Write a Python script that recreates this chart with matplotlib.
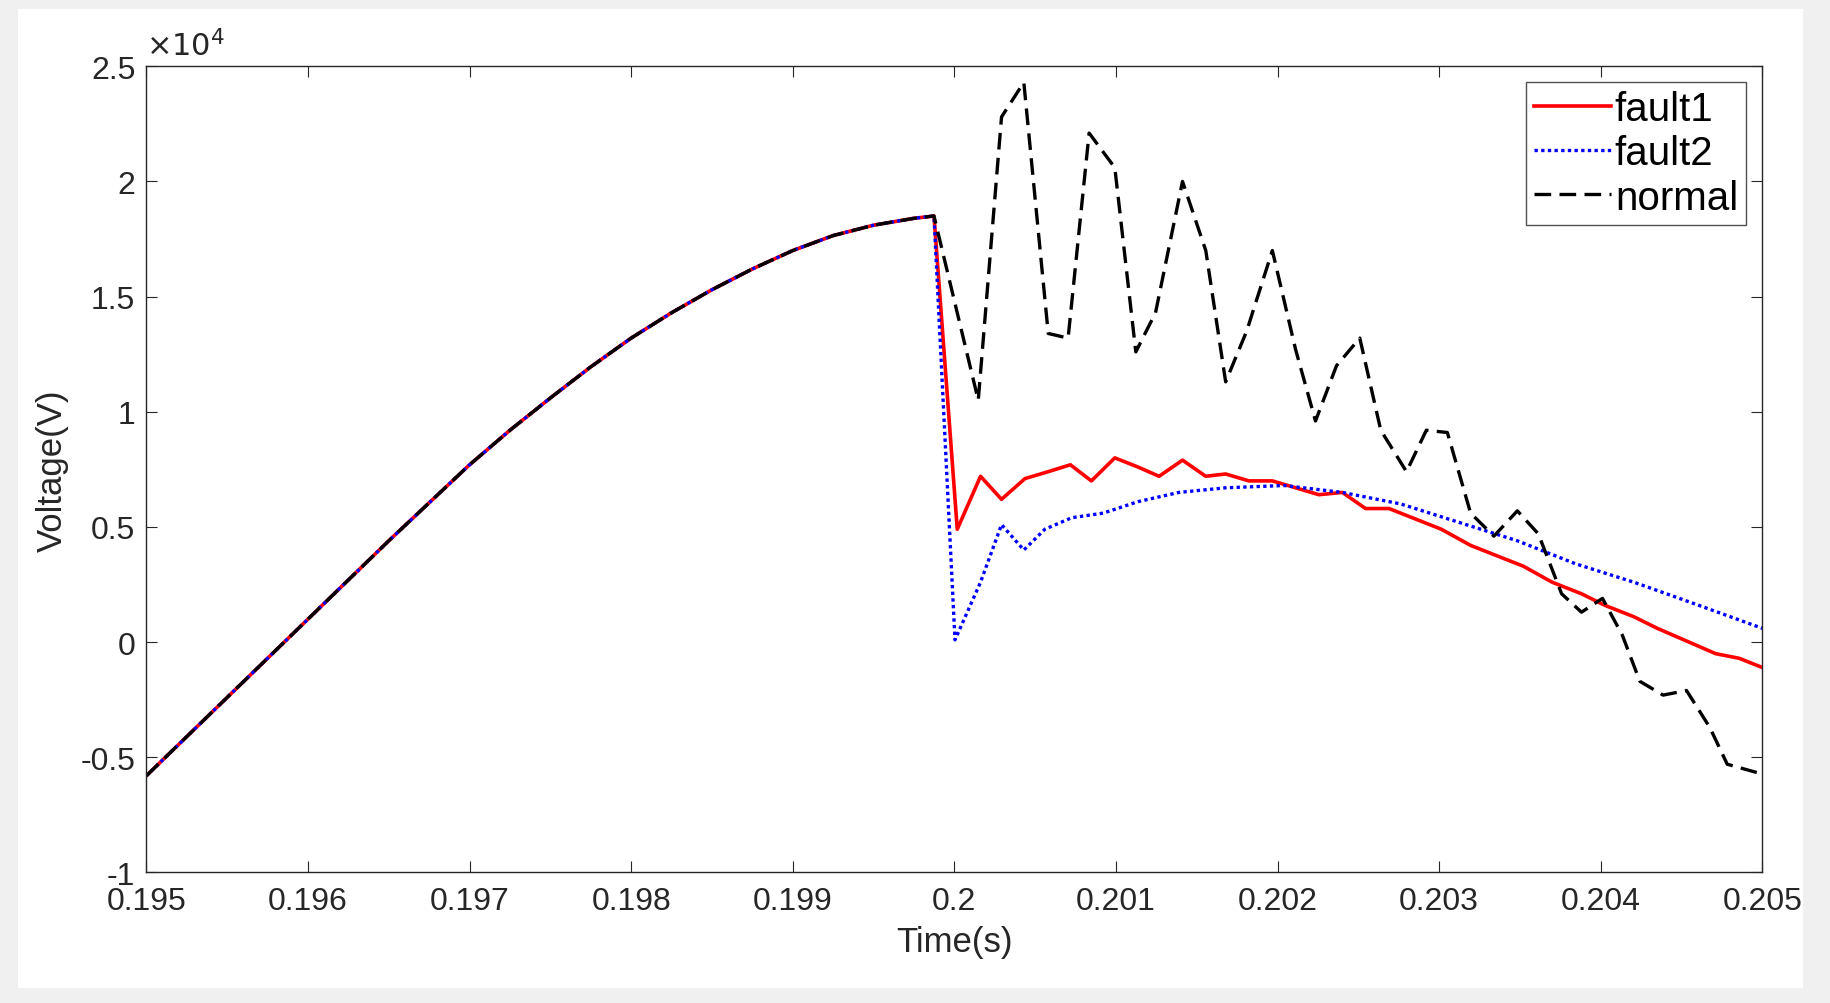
import matplotlib
matplotlib.use("Agg")
import matplotlib.pyplot as plt
from matplotlib.patches import Rectangle

plt.rcParams['font.family'] = ['Liberation Sans', 'DejaVu Sans']

pre_t = [0.195, 0.19525, 0.1955, 0.19575, 0.196, 0.19625, 0.1965, 0.19675, 0.197, 0.19725,
         0.1975, 0.19775, 0.198, 0.19825, 0.1985, 0.19875, 0.199, 0.19925, 0.1995, 0.19975, 0.199874]
pre_v = [-5800, -4100, -2400, -700, 1000, 2700, 4400, 6050, 7700, 9200,
         10600, 11950, 13200, 14300, 15300, 16200, 17000, 17650, 18100, 18400, 18500]

normal_t = [0.200148, 0.200292, 0.200430, 0.200581, 0.200704, 0.200834, 0.200993, 0.201123,
            0.201245, 0.201412, 0.201556, 0.201679, 0.201809, 0.201968, 0.202112, 0.202235,
            0.202365, 0.202509, 0.202639, 0.202798, 0.202921, 0.203051, 0.203195, 0.203339,
            0.203484, 0.203614, 0.203758, 0.203881, 0.204011, 0.204134, 0.204242, 0.204386,
            0.204531, 0.204675, 0.204783, 0.204986]
normal_v = [10500, 22800, 24300, 13400, 13200, 22100, 20600, 12600, 14300, 20000, 17000,
            11300, 13500, 17000, 12700, 9600, 12000, 13200, 9200, 7400, 9200, 9100, 5600,
            4600, 5700, 4700, 2100, 1300, 1900, 300, -1700, -2300, -2100, -3700, -5300, -5700]

fault1_t = [0.200018, 0.200162, 0.200292, 0.200437, 0.200581, 0.200718, 0.200848, 0.200993,
            0.201137, 0.201267, 0.201412, 0.201556, 0.201679, 0.201823, 0.201968, 0.202112,
            0.202256, 0.202401, 0.202545, 0.202690, 0.202834, 0.203014, 0.203195, 0.203375,
            0.203520, 0.203700, 0.203881, 0.204025, 0.204206, 0.204350, 0.204531, 0.204711,
            0.204856, 0.205]
fault1_v = [4900, 7200, 6200, 7100, 7400, 7700, 7000, 8000, 7600, 7200, 7900, 7200, 7300,
            7000, 7000, 6700, 6400, 6500, 5800, 5800, 5400, 4900, 4200, 3700, 3300, 2600,
            2100, 1600, 1100, 600, 50, -500, -700, -1100]

fault2_t = [0.200004, 0.200162, 0.200292, 0.200430, 0.200560, 0.200726, 0.200921, 0.201137,
            0.201390, 0.201679, 0.202040, 0.202401, 0.202762, 0.203123, 0.203484, 0.203845,
            0.204206, 0.204567, 0.205]
fault2_v = [100, 2600, 5100, 4000, 4900, 5400, 5600, 6100, 6500, 6700, 6800, 6500, 6000,
            5200, 4400, 3400, 2600, 1700, 600]

fig = plt.figure(figsize=(18.3, 10.04), dpi=100, facecolor='#f0f0f0')
fig.patches.append(Rectangle((0.010, 0.015), 0.975, 0.975, transform=fig.transFigure,
                             facecolor='white', edgecolor='none', zorder=-10))
ax = fig.add_axes([0.080, 0.130, 0.883, 0.803])

ax.plot(pre_t + fault1_t, pre_v + fault1_v, color='#ff0000', lw=2.6, label='fault1')
ax.plot(pre_t + fault2_t, pre_v + fault2_v, color='#0000ff', lw=2.4, ls=(0, (1, 1)), label='fault2')
ax.plot(pre_t + normal_t, pre_v + normal_v, color='black', lw=2.4, ls=(0, (5, 2.5)), label='normal')

ax.set_xlim(0.195, 0.205)
ax.set_ylim(-10000, 25000)
xt = [0.195, 0.196, 0.197, 0.198, 0.199, 0.2, 0.201, 0.202, 0.203, 0.204, 0.205]
ax.set_xticks(xt)
ax.set_xticklabels(['0.195', '0.196', '0.197', '0.198', '0.199', '0.2', '0.201', '0.202',
                    '0.203', '0.204', '0.205'])
yt = [-10000, -5000, 0, 5000, 10000, 15000, 20000, 25000]
ax.set_yticks(yt)
ax.set_yticklabels(['-1', '-0.5', '0', '0.5', '1', '1.5', '2', '2.5'])
ax.tick_params(direction='in', labelsize=23, colors='#262626', length=8, top=True, right=True,
               labelcolor='#262626')
ax.tick_params(axis='x', pad=10)
ax.tick_params(axis='y', pad=8)
for s in ax.spines.values():
    s.set_color('#262626')
    s.set_linewidth(1.0)
ax.text(0.0, 1.005, r'$\times10^4$', transform=ax.transAxes, fontsize=22, color='#262626',
        va='bottom', ha='left')
ax.set_xlabel('Time(s)', fontsize=25, color='#262626', labelpad=6)
ax.set_ylabel('Voltage(V)', fontsize=25, color='#262626', labelpad=8)

leg = ax.legend(loc='upper right', fontsize=29, frameon=True, fancybox=False,
                handlelength=1.9, handletextpad=0.1, borderpad=0.2, labelspacing=0.15,
                borderaxespad=0.4)
leg.get_frame().set_edgecolor('#262626')
leg.get_frame().set_linewidth(1.0)

fig.savefig('out.png', dpi=100, facecolor=fig.get_facecolor())
